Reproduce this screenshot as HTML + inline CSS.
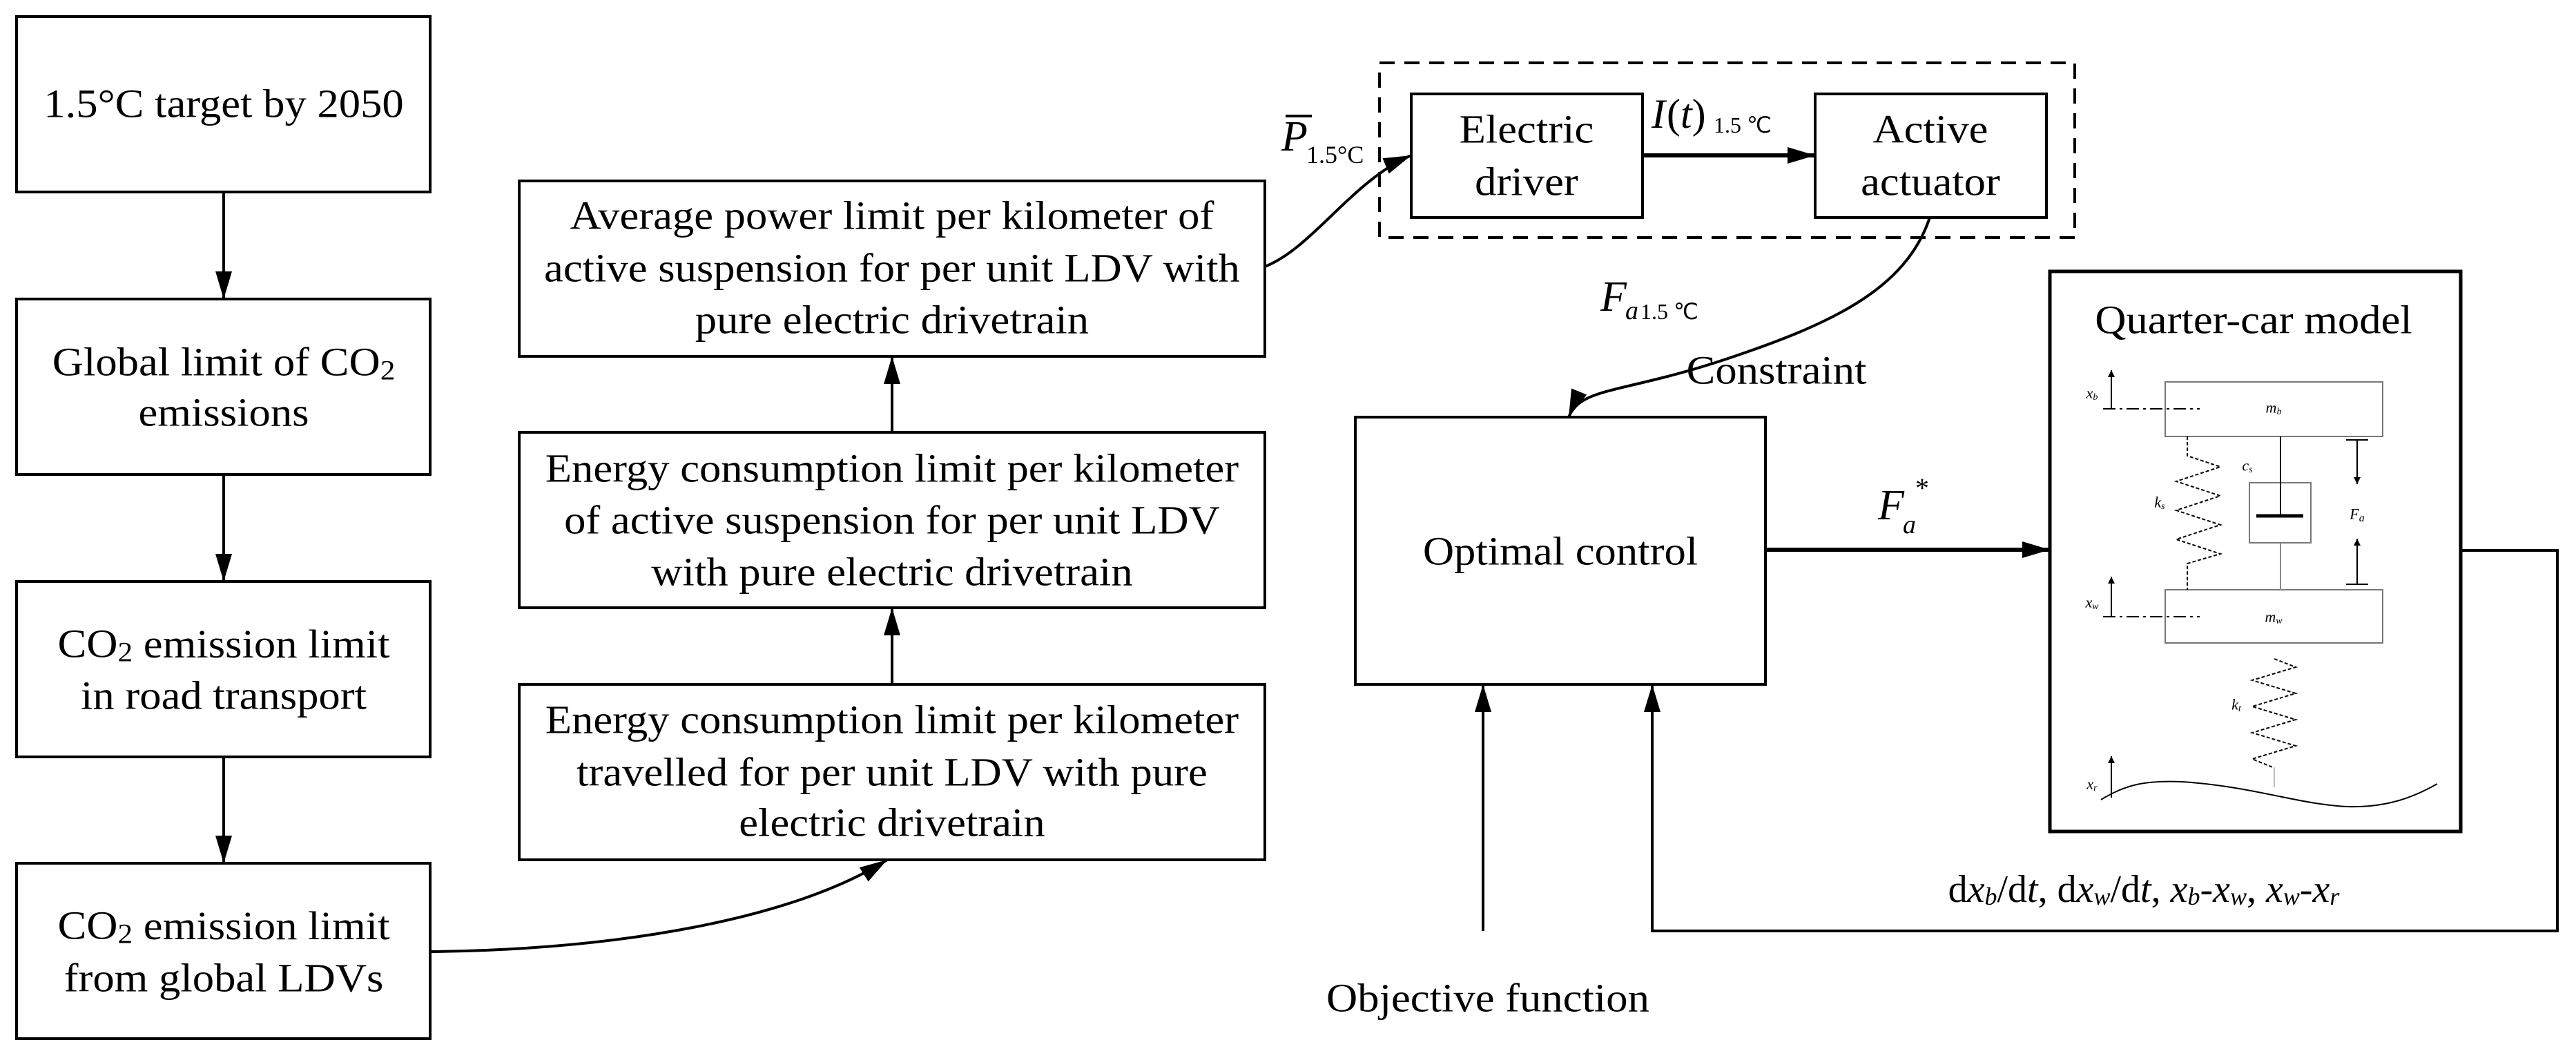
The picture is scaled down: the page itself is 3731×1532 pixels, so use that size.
<!DOCTYPE html>
<html><head><meta charset="utf-8"><style>
html,body{margin:0;padding:0;background:#fff;}
svg{display:block;}
text{font-family:"Liberation Serif",serif;fill:#000;}
.t{font-size:58px;text-anchor:middle;dominant-baseline:central;}
.s{font-size:22px;font-style:italic;text-anchor:middle;dominant-baseline:central;}
</style></head><body>
<svg width="3731" height="1532" viewBox="0 0 3731 1532" xmlns="http://www.w3.org/2000/svg">
<defs>
<marker id="ah" viewBox="0 0 10 10" refX="10" refY="5" markerWidth="10" markerHeight="10" markerUnits="userSpaceOnUse" orient="auto"><path d="M0,0 L10,5 L0,10z"/></marker>
<marker id="a" viewBox="0 0 40 24" refX="40" refY="12" markerWidth="40" markerHeight="24" markerUnits="userSpaceOnUse" orient="auto"><path d="M0,0 L40,12 L0,24z" fill="#000"/></marker>
</defs>
<g fill="none" stroke="#000" stroke-width="4">
<rect x="24" y="24" width="599" height="254"/>
<rect x="24" y="433" width="599" height="254"/>
<rect x="24" y="842" width="599" height="254"/>
<rect x="24" y="1250" width="599" height="254"/>
<rect x="752" y="262" width="1080" height="254"/>
<rect x="752" y="626" width="1080" height="254"/>
<rect x="752" y="991" width="1080" height="254"/>
<rect x="1998" y="91" width="1007" height="253" stroke-dasharray="22,14"/>
<rect x="2044" y="136" width="335" height="179"/>
<rect x="2629" y="136" width="335" height="179"/>
<rect x="1963" y="604" width="594" height="387"/>
<rect x="2969" y="393" width="595" height="811" stroke-width="5"/>
</g>
<g fill="none" stroke="#000" stroke-width="4">
<line x1="324" y1="278" x2="324" y2="433" marker-end="url(#a)"/>
<line x1="324" y1="687" x2="324" y2="842" marker-end="url(#a)"/>
<line x1="324" y1="1096" x2="324" y2="1250" marker-end="url(#a)"/>
<line x1="1292" y1="991" x2="1292" y2="880" marker-end="url(#a)"/>
<line x1="1292" y1="626" x2="1292" y2="516" marker-end="url(#a)"/>
<path d="M623,1378 C900,1375 1150,1330 1285,1245" marker-end="url(#a)"/>
<path d="M1832,386 C1900,360 1960,260 2044,225" marker-end="url(#a)"/>
<line x1="2379" y1="225" x2="2629" y2="225" stroke-width="6" marker-end="url(#a)"/>
<path d="M2795,315 C2760,420 2650,470 2500,520 C2350,570 2290,560 2272,604" marker-end="url(#a)"/>
<line x1="2557" y1="796" x2="2969" y2="796" stroke-width="6" marker-end="url(#a)"/>
<polyline points="3564,797 3704,797 3704,1348 2393,1348 2393,991" marker-end="url(#a)"/>
<line x1="2148" y1="1348" x2="2148" y2="991" marker-end="url(#a)"/>
</g>
<!-- box texts -->
<g transform="matrix(1.08 0 0 1 -25.9 0)">
<text class="t" x="324" y="151">1.5°C target by 2050</text>
<text class="t" x="324" y="525">Global limit of CO<tspan font-size="40" dy="12">2</tspan></text>
<text class="t" x="324" y="598">emissions</text>
<text class="t" x="324" y="933">CO<tspan font-size="40" dy="12">2</tspan><tspan dy="-12"> emission limit</tspan></text>
<text class="t" x="324" y="1008">in road transport</text>
<text class="t" x="324" y="1341">CO<tspan font-size="40" dy="12">2</tspan><tspan dy="-12"> emission limit</tspan></text>
<text class="t" x="324" y="1417">from global LDVs</text>
</g>
<g transform="matrix(1.08 0 0 1 -103.4 0)">
<text class="t" x="1292" y="313">Average power limit per kilometer of</text>
<text class="t" x="1292" y="389">active suspension for per unit LDV with</text>
<text class="t" x="1292" y="464">pure electric drivetrain</text>
<text class="t" x="1292" y="679">Energy consumption limit per kilometer</text>
<text class="t" x="1292" y="754">of active suspension for per unit LDV</text>
<text class="t" x="1292" y="829">with pure electric drivetrain</text>
<text class="t" x="1292" y="1043">Energy consumption limit per kilometer</text>
<text class="t" x="1292" y="1119">travelled for per unit LDV with pure</text>
<text class="t" x="1292" y="1192">electric drivetrain</text>
</g>
<g transform="matrix(1.08 0 0 1 -176.9 0)"><text class="t" x="2211" y="188">Electric</text><text class="t" x="2211" y="264">driver</text></g>
<g transform="matrix(1.08 0 0 1 -223.7 0)"><text class="t" x="2796" y="188">Active</text><text class="t" x="2796" y="264">actuator</text></g>
<g transform="matrix(1.08 0 0 1 -180.8 0)"><text class="t" x="2260" y="799">Optimal control</text></g>
<g transform="matrix(1.08 0 0 1 -261.1 0)"><text class="t" x="3264" y="464">Quarter-car model</text></g>
<g transform="matrix(1.08 0 0 1 -205.8 0)"><text class="t" x="2573" y="537">Constraint</text></g>
<g transform="matrix(1.08 0 0 1 -172.4 0)"><text class="t" x="2155" y="1446">Objective function</text></g>
<!-- labels -->
<text x="1856" y="218" font-size="62" font-style="italic">P</text>
<line x1="1862" y1="168" x2="1900" y2="168" stroke="#000" stroke-width="4"/>
<text x="1892" y="236" font-size="36">1.5°C</text>
<text x="2392" y="185" font-size="60" font-style="italic">I</text>
<text x="2414" y="185" font-size="60">(<tspan font-style="italic">t</tspan>)</text>
<text x="2482" y="192" font-size="32">1.5 ℃</text>
<text x="2318" y="450" font-size="62" font-style="italic">F</text>
<text x="2354" y="462" font-size="38" font-style="italic">a</text>
<text x="2376" y="462" font-size="32">1.5 ℃</text>
<text x="2720" y="752" font-size="62" font-style="italic">F</text>
<text x="2756" y="772" font-size="38" font-style="italic">a</text>
<text x="2774" y="720" font-size="40">*</text>
<text x="3105" y="1288" font-size="56" text-anchor="middle" dominant-baseline="central">d<tspan font-style="italic">x</tspan><tspan font-size="36" font-style="italic" dy="10">b</tspan><tspan dy="-10">/d</tspan><tspan font-style="italic">t</tspan>, d<tspan font-style="italic">x</tspan><tspan font-size="36" font-style="italic" dy="10">w</tspan><tspan dy="-10">/d</tspan><tspan font-style="italic">t</tspan>, <tspan font-style="italic">x</tspan><tspan font-size="36" font-style="italic" dy="10">b</tspan><tspan dy="-10">-</tspan><tspan font-style="italic">x</tspan><tspan font-size="36" font-style="italic" dy="10">w</tspan><tspan dy="-10">, </tspan><tspan font-style="italic">x</tspan><tspan font-size="36" font-style="italic" dy="10">w</tspan><tspan dy="-10">-</tspan><tspan font-style="italic">x</tspan><tspan font-size="36" font-style="italic" dy="10">r</tspan></text>
<!-- quarter car internals -->
<g fill="none" stroke="#777" stroke-width="2">
<rect x="3136" y="553" width="315" height="79"/>
<rect x="3136" y="854" width="315" height="77"/>
<rect x="3258" y="699" width="89" height="87"/>
</g>
<g fill="none" stroke="#000" stroke-width="2">
<line x1="3046" y1="592" x2="3186" y2="592" stroke-dasharray="18,6,4,6"/>
<line x1="3046" y1="893" x2="3186" y2="893" stroke-dasharray="18,6,4,6"/>
<line x1="3058" y1="592" x2="3058" y2="536" marker-end="url(#ah)"/>
<line x1="3058" y1="893" x2="3058" y2="835" marker-end="url(#ah)"/>
<line x1="3058" y1="1155" x2="3058" y2="1095" marker-end="url(#ah)"/>
<polyline points="3168,632 3168,660 3216,676 3152,697 3216,718 3152,739 3216,760 3152,781 3216,802 3168,816 3168,854" stroke-dasharray="5,3"/>
<line x1="3303" y1="632" x2="3303" y2="747"/>
<line x1="3303" y1="786" x2="3303" y2="854" stroke="#888"/>
<line x1="3268" y1="747" x2="3336" y2="747" stroke-width="5"/>
<line x1="3398" y1="637" x2="3430" y2="637"/>
<line x1="3414" y1="637" x2="3414" y2="701" marker-end="url(#ah)"/>
<line x1="3398" y1="846" x2="3430" y2="846"/>
<line x1="3414" y1="846" x2="3414" y2="780" marker-end="url(#ah)"/>
<polyline points="3294,954 3325,966 3262,985 3325,1004 3262,1023 3325,1042 3262,1061 3325,1080 3262,1099 3294,1112" stroke-dasharray="5,3"/>
<line x1="3294" y1="1112" x2="3294" y2="1140" stroke="#bbb"/>
<path d="M3043,1158 C3080,1135 3110,1130 3160,1132 C3260,1138 3330,1165 3400,1168 C3460,1170 3500,1152 3530,1135"/>
</g>
<text class="s" x="3030" y="569">x<tspan font-size="14" dy="6">b</tspan></text>
<text class="s" x="3030" y="872">x<tspan font-size="14" dy="6">w</tspan></text>
<text class="s" x="3030" y="1135">x<tspan font-size="14" dy="6">r</tspan></text>
<text class="s" x="3293" y="590">m<tspan font-size="14" dy="6">b</tspan></text>
<text class="s" x="3293" y="893">m<tspan font-size="14" dy="6">w</tspan></text>
<text class="s" x="3255" y="674">c<tspan font-size="14" dy="6">s</tspan></text>
<text class="s" x="3128" y="727">k<tspan font-size="14" dy="6">s</tspan></text>
<text class="s" x="3239" y="1020">k<tspan font-size="14" dy="6">t</tspan></text>
<text class="s" x="3414" y="744" font-size="28">F<tspan font-size="16" dy="6">a</tspan></text>
</svg>
</body></html>
